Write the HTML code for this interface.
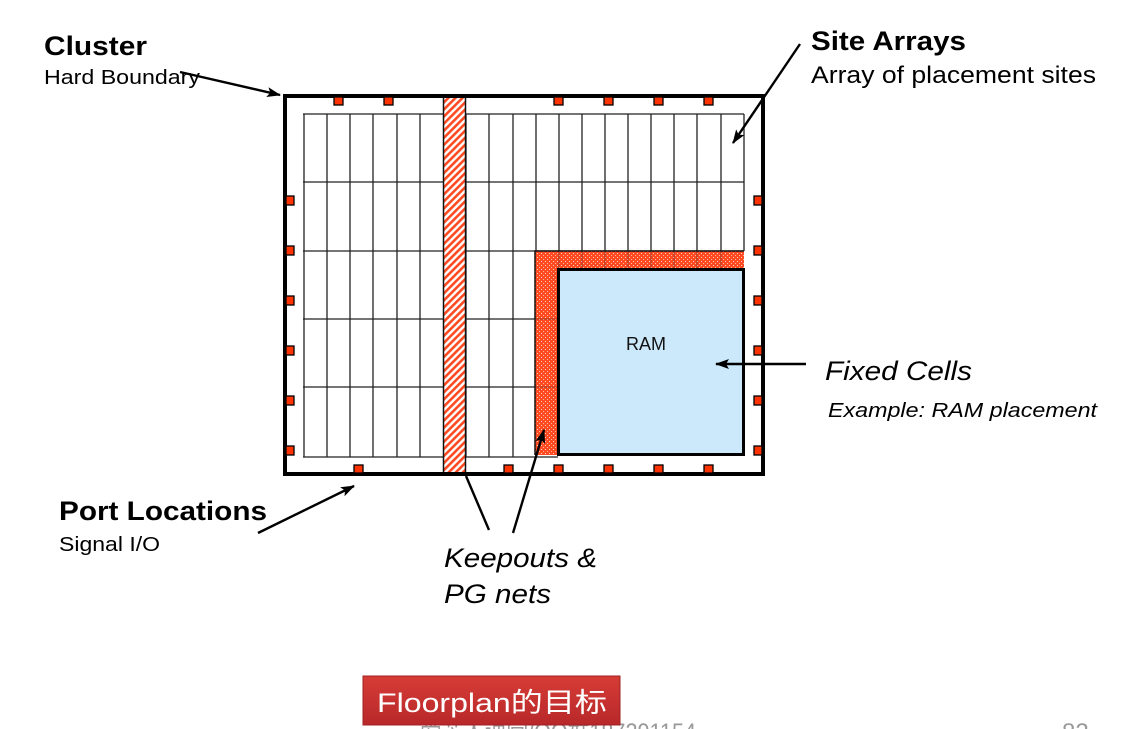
<!DOCTYPE html>
<html><head><meta charset="utf-8"><style>
html,body{margin:0;padding:0;background:#fff;width:1139px;height:729px;overflow:hidden}
svg{display:block}
svg text{font-family:"Liberation Sans",Arial,"Noto Sans CJK SC",sans-serif}
</style></head><body>
<svg width="1139" height="729" viewBox="0 0 1139 729" xmlns="http://www.w3.org/2000/svg" font-family="Liberation Sans, Arial, Noto Sans CJK SC, sans-serif">
<defs>
<pattern id="diag" width="5" height="5" patternUnits="userSpaceOnUse" patternTransform="rotate(-45)">
<rect width="5" height="5" fill="#fff"/><rect width="5" height="2.6" fill="#ff4a22"/>
</pattern>
<pattern id="cross" width="4" height="4" patternUnits="userSpaceOnUse">
<rect width="4" height="4" fill="#ff4a22"/><rect x="1" y="1" width="1" height="1" fill="#ffd0c0"/><rect x="3" y="3" width="1" height="1" fill="#ffb8a0"/>
</pattern>
<marker id="ah" markerWidth="14" markerHeight="12" refX="13" refY="6" orient="auto" markerUnits="userSpaceOnUse">
<path d="M0,1 L14,6 L0,11 L3,6 Z" fill="#000"/>
</marker>
<linearGradient id="rg" x1="0" y1="0" x2="0" y2="1"><stop offset="0" stop-color="#d63c36"/><stop offset="1" stop-color="#b8282a"/></linearGradient>
</defs>
<!-- grid -->
<g stroke="#222" stroke-width="1.3" fill="none">
<line x1="303" y1="114" x2="744" y2="114"/>
<line x1="303" y1="182" x2="744" y2="182"/>
<line x1="303" y1="251" x2="744" y2="251"/>
<line x1="303" y1="319" x2="558" y2="319"/>
<line x1="303" y1="387" x2="558" y2="387"/>
<line x1="303" y1="457" x2="558" y2="457"/>
<line x1="304" y1="114" x2="304" y2="457"/><line x1="327" y1="114" x2="327" y2="457"/><line x1="350" y1="114" x2="350" y2="457"/><line x1="373" y1="114" x2="373" y2="457"/><line x1="397" y1="114" x2="397" y2="457"/><line x1="420" y1="114" x2="420" y2="457"/>
<line x1="466" y1="114" x2="466" y2="457"/><line x1="489" y1="114" x2="489" y2="457"/><line x1="513" y1="114" x2="513" y2="457"/><line x1="536" y1="114" x2="536" y2="457"/>
<line x1="559" y1="114" x2="559" y2="251"/><line x1="582" y1="114" x2="582" y2="251"/><line x1="605" y1="114" x2="605" y2="251"/><line x1="628" y1="114" x2="628" y2="251"/><line x1="651" y1="114" x2="651" y2="251"/><line x1="674" y1="114" x2="674" y2="251"/><line x1="697" y1="114" x2="697" y2="251"/><line x1="721" y1="114" x2="721" y2="251"/><line x1="744" y1="114" x2="744" y2="251"/>
</g>
<!-- strip -->
<rect x="443.5" y="95" width="22" height="380" fill="url(#diag)" stroke="#111" stroke-width="1.5"/>
<!-- keepout L -->
<rect x="535" y="251" width="209" height="18" fill="url(#cross)"/>
<rect x="535" y="251" width="23" height="204" fill="url(#cross)"/>
<path d="M535,455 L535,251 L744,251" fill="none" stroke="#111" stroke-width="1.5"/>
<g stroke="#222" stroke-width="0.8" opacity="0.5"><line x1="559" y1="251" x2="559" y2="269"/><line x1="582" y1="251" x2="582" y2="269"/><line x1="605" y1="251" x2="605" y2="269"/><line x1="628" y1="251" x2="628" y2="269"/><line x1="651" y1="251" x2="651" y2="269"/><line x1="674" y1="251" x2="674" y2="269"/><line x1="697" y1="251" x2="697" y2="269"/><line x1="721" y1="251" x2="721" y2="269"/><line x1="535" y1="319" x2="558" y2="319"/><line x1="535" y1="387" x2="558" y2="387"/></g>
<!-- RAM -->
<rect x="558.5" y="269.5" width="185" height="185" fill="#cce9fb" stroke="#000" stroke-width="3"/>
<text x="646" y="350" font-size="18" text-anchor="middle" fill="#111">RAM</text>
<!-- boundary -->
<rect x="285" y="96" width="478" height="378" fill="none" stroke="#000" stroke-width="4"/>
<!-- ports -->
<g fill="#ff3300" stroke="#000" stroke-width="1.3">
<rect x="334" y="97" width="9" height="8"/><rect x="384" y="97" width="9" height="8"/><rect x="554" y="97" width="9" height="8"/><rect x="604" y="97" width="9" height="8"/><rect x="654" y="97" width="9" height="8"/><rect x="704" y="97" width="9" height="8"/>
<rect x="286" y="196" width="8" height="9"/><rect x="286" y="246" width="8" height="9"/><rect x="286" y="296" width="8" height="9"/><rect x="286" y="346" width="8" height="9"/><rect x="286" y="396" width="8" height="9"/><rect x="286" y="446" width="8" height="9"/>
<rect x="754" y="196" width="8" height="9"/><rect x="754" y="246" width="8" height="9"/><rect x="754" y="296" width="8" height="9"/><rect x="754" y="346" width="8" height="9"/><rect x="754" y="396" width="8" height="9"/><rect x="754" y="446" width="8" height="9"/>
<rect x="354" y="465" width="9" height="8"/><rect x="504" y="465" width="9" height="8"/><rect x="554" y="465" width="9" height="8"/><rect x="604" y="465" width="9" height="8"/><rect x="654" y="465" width="9" height="8"/><rect x="704" y="465" width="9" height="8"/>
</g>
<!-- arrows -->
<g stroke="#000" stroke-width="2.4" fill="none">
<line x1="180" y1="72" x2="280" y2="95" marker-end="url(#ah)"/>
<line x1="800" y1="44" x2="733" y2="143" marker-end="url(#ah)"/>
<line x1="258" y1="533" x2="354" y2="486" marker-end="url(#ah)"/>
<line x1="489" y1="530" x2="466" y2="476"/>
<line x1="513" y1="533" x2="544" y2="430" marker-end="url(#ah)"/>
<line x1="806" y1="364" x2="716" y2="364" marker-end="url(#ah)"/>
</g>
<!-- labels -->
<text x="44" y="55" font-size="27" font-weight="bold" textLength="103" lengthAdjust="spacingAndGlyphs">Cluster</text>
<text x="44" y="84" font-size="20" textLength="156" lengthAdjust="spacingAndGlyphs">Hard Boundary</text>
<text x="811" y="50" font-size="27" font-weight="bold" textLength="155" lengthAdjust="spacingAndGlyphs">Site Arrays</text>
<text x="811" y="83" font-size="24" textLength="285" lengthAdjust="spacingAndGlyphs">Array of placement sites</text>
<text x="825" y="380" font-size="27" font-style="italic" textLength="147" lengthAdjust="spacingAndGlyphs">Fixed Cells</text>
<text x="828" y="417" font-size="20" font-style="italic" textLength="269" lengthAdjust="spacingAndGlyphs">Example: RAM placement</text>
<text x="59" y="520" font-size="27" font-weight="bold" textLength="208" lengthAdjust="spacingAndGlyphs">Port Locations</text>
<text x="59" y="551" font-size="20" textLength="101" lengthAdjust="spacingAndGlyphs">Signal I/O</text>
<text x="444" y="567" font-size="27" font-style="italic" textLength="153" lengthAdjust="spacingAndGlyphs">Keepouts &amp;</text>
<text x="444" y="603" font-size="27" font-style="italic" textLength="107" lengthAdjust="spacingAndGlyphs">PG nets</text>
<!-- bottom -->
<text x="420" y="740" font-size="24" fill="#999" textLength="276" lengthAdjust="spacingAndGlyphs">爱芯人课堂/QQ群187291154</text>
<text x="1062" y="740" font-size="24" fill="#999">82</text>
<rect x="363" y="676" width="257" height="49" fill="url(#rg)" stroke="#a02020"/>
<text x="377" y="712" font-size="27" fill="#fff" textLength="230" lengthAdjust="spacingAndGlyphs">Floorplan的目标</text>
</svg>
</body></html>
